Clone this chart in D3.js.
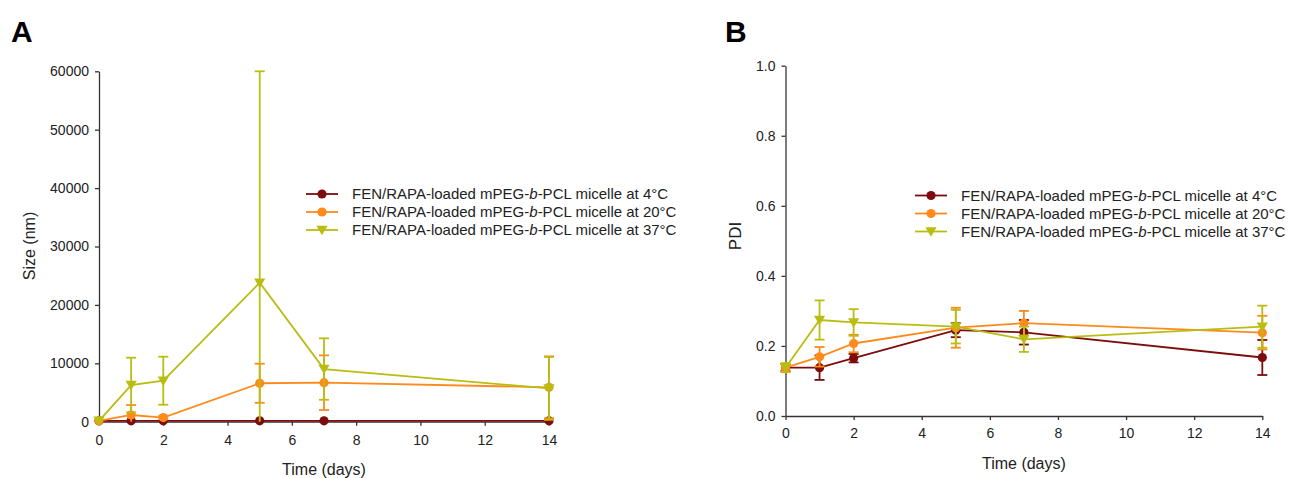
<!DOCTYPE html>
<html>
<head>
<meta charset="utf-8">
<script src="https://cdn.jsdelivr.net/npm/d3@7"></script>
<style>
  html, body { margin: 0; padding: 0; background: #fff; }
  svg { display: block; font-family: Arial, "Liberation Sans", sans-serif; }
</style>
</head>
<body>
<svg id="chart" width="1291" height="478"></svg>
<script>
// ---------- data ----------
const days = [0, 1, 2, 5, 7, 14];
const seriesNames = [
  "FEN/RAPA-loaded mPEG-b-PCL micelle at 4°C",
  "FEN/RAPA-loaded mPEG-b-PCL micelle at 20°C",
  "FEN/RAPA-loaded mPEG-b-PCL micelle at 37°C"
];
const seriesColors = ["#7d0c0c", "#ff8a1c", "#b9bd12"];
const seriesShapes = ["circle", "circle", "triangle"];

// Panel A : Size (nm)
const size4 = [150, 150, 150, 150, 150, 150];
const size4Err = [0, 0, 0, 0, 0, 0];
const size20 = [150, 1150, 700, 6580, 6680, 5890];
const size20Err = [0, 1700, 300, 3350, 4680, 5300];
const size37 = [150, 6280, 7020, 23800, 9020, 5700];
const size37Err = [0, 4680, 4110, 36200, 5260, 5380];
const sizeTicks = [0, 10000, 20000, 30000, 40000, 50000, 60000];

// Panel B : PDI
const pdi4 = [0.138, 0.138, 0.165, 0.245, 0.239, 0.167];
const pdi4Err = [0.010, 0.035, 0.012, 0.020, 0.035, 0.050];
const pdi20 = [0.138, 0.169, 0.207, 0.252, 0.265, 0.238];
const pdi20Err = [0.010, 0.028, 0.025, 0.057, 0.035, 0.048];
const pdi37 = [0.138, 0.274, 0.267, 0.255, 0.219, 0.255];
const pdi37Err = [0.013, 0.056, 0.038, 0.048, 0.036, 0.060];
const pdiTicks = [0, 0.2, 0.4, 0.6, 0.8, 1.0];

const xTicks = [0, 2, 4, 6, 8, 10, 12, 14];

// ---------- drawing ----------
const svg = d3.select("#chart");
const axisColor = "#333";

function drawPanel(cfg) {
  const g = svg.append("g");
  const x = d3.scaleLinear().domain([0, 14]).range(cfg.xRange);
  const y = d3.scaleLinear().domain(cfg.yDomain).range(cfg.yRange);

  // panel letter
  g.append("text").attr("x", cfg.letterX).attr("y", 41.5)
    .attr("font-size", 30).attr("font-weight", "bold").attr("fill", "#000")
    .text(cfg.letter);

  // axes
  const ya = g.append("g").attr("transform", `translate(${cfg.xRange[0]},0)`)
    .call(d3.axisLeft(y).tickValues(cfg.yTicks).tickFormat(cfg.yFormat)
      .tickSizeInner(4).tickSizeOuter(0).tickPadding(6));
  const xa = g.append("g").attr("transform", `translate(0,${cfg.yRange[0]})`)
    .call(d3.axisBottom(x).tickValues(xTicks).tickFormat(d3.format("d"))
      .tickSizeInner(4).tickSizeOuter(0).tickPadding(cfg.xPad));
  [ya, xa].forEach(a => {
    a.selectAll("path.domain").attr("stroke", axisColor).attr("stroke-width", 1.3);
    a.selectAll(".tick line").attr("stroke", axisColor).attr("stroke-width", 1.3);
    a.selectAll(".tick text").attr("fill", "#222").attr("font-size", 14)
      .attr("font-family", "Arial, 'Liberation Sans', sans-serif");
  });

  // axis titles
  g.append("text").attr("x", (cfg.xRange[0] + cfg.xRange[1]) / 2).attr("y", cfg.xTitleY)
    .attr("text-anchor", "middle").attr("font-size", 16).attr("fill", "#222")
    .text("Time (days)");
  g.append("text")
    .attr("transform", `translate(${cfg.yTitleX},${cfg.yTitleY}) rotate(-90)`)
    .attr("text-anchor", "middle").attr("font-size", cfg.yTitleSize).attr("fill", "#222")
    .text(cfg.yTitle);

  const [y0, y1] = cfg.yDomain;
  const clamp = v => Math.max(y0, Math.min(y1, v));

  // series
  cfg.series.forEach((s, si) => {
    const col = seriesColors[si];
    const pts = days.map((d, i) => ({ d, v: s.vals[i], e: s.errs[i] }));
    const sg = g.append("g");
    // line
    sg.append("path").datum(pts)
      .attr("fill", "none").attr("stroke", col).attr("stroke-width", 1.8)
      .attr("d", d3.line().x(p => x(p.d)).y(p => y(p.v)));
    // error bars
    pts.forEach(p => {
      if (!p.e) return;
      const hi = p.v + p.e, lo = p.v - p.e;
      const cx = x(p.d);
      sg.append("line").attr("x1", cx).attr("x2", cx)
        .attr("y1", y(clamp(hi))).attr("y2", y(clamp(lo)))
        .attr("stroke", col).attr("stroke-width", 1.8);
      [hi, lo].forEach(b => {
        if (b < y0 || b > y1) return;
        sg.append("line").attr("x1", cx - 5).attr("x2", cx + 5)
          .attr("y1", y(b)).attr("y2", y(b))
          .attr("stroke", col).attr("stroke-width", 1.8);
      });
    });
    // markers
    pts.forEach(p => drawMarker(sg, seriesShapes[si], x(p.d), y(p.v), col));
  });

  // legend
  seriesNames.forEach((name, i) => {
    const ly = cfg.legendY + i * 18;
    const col = seriesColors[i];
    g.append("line").attr("x1", cfg.legendX).attr("x2", cfg.legendX + 32)
      .attr("y1", ly).attr("y2", ly).attr("stroke", col).attr("stroke-width", 1.8);
    drawMarker(g, seriesShapes[i], cfg.legendX + 16, ly, col);
    const parts = name.split("-b-");
    const t = g.append("text").attr("x", cfg.legendX + 46).attr("y", ly + 5)
      .attr("font-size", 15).attr("fill", "#222");
    t.append("tspan").text(parts[0] + "-");
    t.append("tspan").attr("font-style", "italic").text("b");
    t.append("tspan").text("-" + parts[1]);
  });
}

function drawMarker(g, shape, cx, cy, col) {
  if (shape === "circle") {
    g.append("circle").attr("cx", cx).attr("cy", cy).attr("r", 4.6).attr("fill", col);
  } else {
    const s = 5.6;
    g.append("path")
      .attr("d", `M${cx - s},${cy - s * 0.75} L${cx + s},${cy - s * 0.75} L${cx},${cy + s * 0.95} Z`)
      .attr("fill", col);
  }
}

drawPanel({
  letter: "A", letterX: 11,
  xRange: [99, 549], yRange: [421.7, 71.3], yDomain: [0, 60000],
  yTicks: sizeTicks, yFormat: d3.format("d"), xPad: 9,
  xTitleY: 475, yTitle: "Size (nm)", yTitleX: 35, yTitleY: 246, yTitleSize: 16,
  legendX: 306, legendY: 194,
  series: [
    { vals: size4, errs: size4Err },
    { vals: size20, errs: size20Err },
    { vals: size37, errs: size37Err }
  ]
});

drawPanel({
  letter: "B", letterX: 725,
  xRange: [785.5, 1262.3], yRange: [416, 65.7], yDomain: [0, 1],
  yTicks: pdiTicks, yFormat: d3.format(".1f"), xPad: 8,
  xTitleY: 469, yTitle: "PDI", yTitleX: 741, yTitleY: 236, yTitleSize: 17,
  legendX: 915, legendY: 195.5,
  series: [
    { vals: pdi4, errs: pdi4Err },
    { vals: pdi20, errs: pdi20Err },
    { vals: pdi37, errs: pdi37Err }
  ]
});
</script>
</body>
</html>
